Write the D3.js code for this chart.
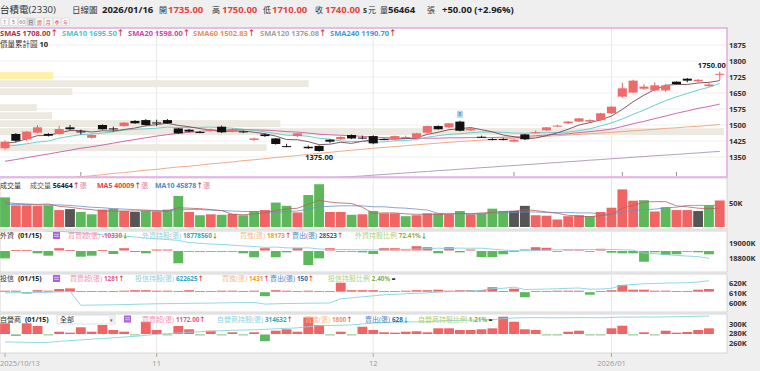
<!DOCTYPE html>
<html>
<head>
<meta charset="utf-8">
<script src="https://d3js.org/d3.v7.min.js"></script>
<style>
  body { margin: 0; background: #efefef; }
  svg { display: block; font-family: "Open Sans", "Noto Sans CJK TC", sans-serif; }
  .ax { font-size: 7.5px; font-weight: bold; fill: #333; }
  .dt { font-size: 7.5px; fill: #9a9a9a; }
</style>
</head>
<body>
<script>
// ---- data ----
const dates = [
  "10/13","10/14","10/15","10/16","10/17","10/20","10/21","10/22","10/23","10/27","10/28","10/29","10/30","10/31",
  "11/03","11/04","11/05","11/06","11/07","11/10","11/11","11/12","11/13","11/14","11/17","11/18","11/19","11/20","11/21","11/24","11/25","11/26","11/27","11/28",
  "12/01","12/02","12/03","12/04","12/05","12/08","12/09","12/10","12/11","12/12","12/15","12/16","12/17","12/18","12/19","12/22","12/23","12/24","12/26","12/29","12/30","12/31",
  "01/02","01/05","01/06","01/07","01/08","01/09","01/12","01/13","01/14","01/15","01/16"];
const tickDates = ["10/13","11/03","12/01","01/02"];
const tickLabels = ["2025/10/13","11","12","2026/01"];

const open = [1391,1458,1433,1464,1458,1458,1489,1470,1440,1500, 1484,1495,1519,1523,1512,1523,1484,1478,1467,1473,
  1492,1469,1470,1430,1456,1437,1401,1448,1398,1402, 1431,1433,1453,1441,1448,1434,1433,1443,1440,1464,
  1495,1489,1516,1475,1445,1434,1434,1422,1456,1465, 1475,1496,1508,1516,1516,1523,1555,1633,1652,1670,
  1662,1662,1703,1717,1705,1682,1735];
const high = [1428,1462,1472,1500,1462,1495,1500,1478,1456,1503, 1492,1514,1523,1528,1525,1528,1486,1482,1472,1483,
  1497,1484,1473,1440,1460,1439,1412,1463,1404,1404, 1434,1447,1456,1450,1452,1437,1450,1450,1463,1497,
  1498,1510,1520,1486,1450,1440,1440,1435,1458,1473, 1490,1502,1519,1533,1527,1557,1588,1698,1712,1692,
  1700,1692,1705,1720,1715,1700,1750];
const low = [1385,1420,1425,1460,1446,1455,1476,1455,1436,1478, 1470,1492,1505,1497,1495,1505,1458,1466,1462,1470,
  1462,1466,1462,1426,1444,1408,1396,1444,1388,1375, 1415,1430,1434,1433,1410,1429,1430,1435,1437,1460,
  1478,1485,1470,1472,1440,1428,1428,1418,1430,1460, 1472,1490,1505,1513,1510,1520,1552,1628,1650,1665,
  1658,1655,1690,1700,1700,1680,1710];
const close = [1422,1426,1469,1489,1450,1481,1480,1469,1453,1480, 1480,1511,1508,1500,1511,1508,1461,1469,1466,1480,
  1466,1480,1466,1437,1448,1411,1398,1461,1391,1378, 1422,1444,1437,1440,1414,1433,1448,1444,1461,1495,
  1480,1508,1473,1484,1444,1433,1433,1431,1433,1466, 1489,1497,1516,1531,1523,1555,1586,1672,1708,1680,
  1686,1686,1692,1708,1712,1690,1740];

const sma5 = [1415,1420,1435,1450,1451,1463,1474,1474,1467,1473, 1472,1479,1486,1496,1502,1508,1498,1492,1483,1477,
  1468,1472,1472,1466,1459,1448,1432,1431,1422,1408, 1410,1419,1414,1424,1431,1434,1434,1436,1440,1456,
  1466,1478,1483,1488,1478,1468,1453,1445,1435,1439, 1450,1463,1480,1500,1511,1524,1542,1573,1609,1640,
  1666,1686,1690,1690,1697,1700,1708];
const sma10 = [1400,1405,1412,1420,1425,1438,1447,1455,1458,1462, 1468,1476,1480,1482,1485,1490,1488,1488,1489,1490,
  1488,1485,1480,1475,1468,1460,1452,1451,1447,1438, 1434,1425,1423,1423,1420,1421,1426,1427,1432,1443,
  1450,1456,1459,1464,1467,1467,1466,1462,1461,1464, 1464,1465,1467,1473,1482,1496,1510,1528,1550,1570,
  1593,1614,1632,1648,1664,1677,1695.5];
const sma20 = [1330,1338,1347,1356,1364,1373,1382,1391,1398,1406, 1415,1424,1432,1440,1448,1455,1461,1466,1470,1474,
  1476,1478,1479,1477,1476,1473,1469,1467,1462,1457, 1454,1452,1449,1447,1443,1441,1439,1437,1437,1438,
  1438,1440,1440,1441,1441,1441,1443,1444,1446,1450, 1453,1456,1459,1464,1469,1474,1481,1493,1506,1517,
  1530,1542,1555,1566,1578,1587,1598];
const sma60 = [1222,1228,1232,1238,1243,1247,1252,1258,1262,1267, 1273,1277,1283,1288,1292,1298,1303,1307,1312,1318,
  1322,1327,1333,1337,1342,1348,1352,1357,1362,1367, 1372,1377,1382,1386,1391,1395,1399,1403,1407,1411,
  1415,1419,1422,1426,1429,1432,1435,1438,1441,1444, 1447,1450,1453,1456,1459,1462,1466,1469,1473,1476,
  1480,1484,1487,1491,1494,1498,1502.83];
const sma120 = [1146,1150,1153,1157,1160,1164,1167,1171,1174,1178, 1181,1185,1188,1192,1195,1199,1202,1206,1209,1213,
  1216,1220,1223,1227,1230,1234,1237,1241,1244,1248, 1251,1255,1258,1261,1265,1268,1272,1275,1279,1282,
  1286,1289,1293,1296,1300,1303,1307,1310,1314,1317, 1321,1324,1328,1331,1335,1338,1342,1345,1349,1352,
  1356,1359,1362,1366,1369,1373,1376.08];
const smaLegend = [["SMA5","1708.00","#b3303e"],["SMA10","1695.50","#4cc4c8"],["SMA20","1598.00","#d63fa6"],
  ["SMA60","1502.83","#ef8a55"],["SMA120","1376.08","#a0a0a0"],["SMA240","1190.70","#3b9ad9"]];

// volume profile (價量累計圖, 10 bins)
const profLow = [1375,1412.5,1450,1487.5,1525,1562.5,1600,1637.5,1675,1712.5];
const profVol = [405,0,1100,426,79,56,0,110,469,81];

// volume (K lots)
const volume = [63,46,46,45,46,36,38,32,27,37, 39,34,32,34,33,37,66,32,25,27,
  26,28,25,34,36,52,45,31,68,91, 32,32,26,27,34,29,29,23,25,29,
  29,27,34,27,29,39,34,34,45,25, 24,16,23,25,23,32,41,80,56,57,
  33,42,36,36,34,46,56.464];
const volColor = "grrrgrkggr" + "grkgrggrgr" + "grggrggrgg" + "rrgrgrrgrr" + "grgrgggkkr" + "rrrrgrrrrg" + "rgrrkgr";
const volMA5 = [52,50,49,48,49,44,42,39,37,34, 34,34,34,35,34,34,41,40,39,37,
  35,27,26,28,30,35,38,40,48,57, 53,51,50,42,29,30,30,28,27,27,
  27,27,29,28,30,31,33,34,37,35, 32,29,25,23,22,24,27,40,46,53,
  54,54,45,43,40,39,40.0];
const volMA10 = [48,48,48,47,47,47,46,44,42,41, 39,38,37,36,35,34,37,37,37,36,
  35,34,33,33,33,31,33,34,38,43, 44,45,45,45,43,43,41,40,38,36,
  29,29,28,28,28,29,30,31,32,32, 31,31,31,30,30,28,27,32,35,37,
  38,41,42,46,46,46,45.9];

// institutional flows (lots) and holdings (K lots), through 01/15
const foreignNet = [-23000,1500,1500,-7200,-14700,7200,1000,-17800,-14700,1000,
  -9400,7200,-3100,-7200,3100,3100,-38500,-2200,-2200,-2200,
  -2200,-2200,-7200,-19700,7200,-19700,-4100,8500,-43800,-22900,
  7200,-2200,-2200,-4100,-9400,7200,7200,3100,13500,10300,
  -7200,10300,-4100,3100,-18800,-18800,-10300,-2200,3100,10300,
  8500,-2200,3100,3100,-2200,5300,-5300,-7200,-7200,-33500,
  -4100,-12500,-10300,-2200,-4100,-10330];
const foreignHold = [19200,19185,19180,19175,19165,19160,19150,19140,19125,19115,
  19105,19095,19085,19070,19060,19050,19040,19010,19000,18990,
  18985,18975,18965,18958,18945,18950,18940,18935,18940,18925,
  18915,18918,18916,18914,18912,18910,18915,18920,18922,18930,
  18935,18930,18936,18934,18935,18922,18910,18903,18901,18903,
  18910,18915,18913,18915,18917,18915,18918,18913,18908,18870,
  18862,18850,18838,18830,18822,18800];
const trustNet = [480,480,-620,710,480,1280,1570,240,240,240,
  240,480,710,710,480,480,240,710,240,240,
  480,480,240,480,-1900,710,480,240,480,240,
  240,4280,710,710,710,240,240,480,710,710,
  950,480,710,710,710,2140,240,1430,-2380,240,
  240,480,480,480,-1190,240,710,3180,950,950,
  480,480,240,240,950,1281];
const trustHold = [610.5,610.6,610.4,610.8,611,611.5,612,598,598.2,598.4,
  598.5,598.7,599,599.3,599.5,599.7,599.8,600,600.1,600.2,
  600.4,600.6,600.7,600.9,599.2,599.5,599.8,599.9,600.1,600.2,
  600.3,604.5,605.5,606.5,607.5,608.5,609,609.5,610,610.5,
  611.2,611.6,612,612.5,613,614.8,615,616.2,613.8,614,
  614.2,614.6,615,615.3,614.1,614.3,615,618,618.8,619.5,
  619.8,620.2,620.4,620.6,621.3,622.6];
const dealerNet = [2200,-270,2200,1650,-140,470,270,1380,470,1850,
  820,470,-140,2530,820,-100,1650,970,-140,680,
  -100,350,-100,350,-1380,680,970,470,3440,1850,
  -100,470,-100,1500,820,350,270,470,560,350,
  1170,1170,820,820,970,1170,3560,2530,970,820,
  -100,-140,470,680,-100,-140,1170,1710,-100,350,
  -140,680,270,410,820,1172];
const dealerHold = [263,262.5,262,261.5,262,264,265.5,267,268.5,270,
  271.5,273,274.5,276.5,278.5,280,281.5,283,284,285,
  286,287,287.5,288,289,290,291,292,294.5,296.5,
  297,297.5,298,300,302,303,303.5,304,304.5,305,
  306,307,307.5,308,308.5,309,311,312.5,313,313.2,
  313,312.8,313,313.3,313.1,312.9,313.5,314.5,314.3,314.6,
  314.4,314.8,315,315.5,316,316.5];

const priceTicks = [1350,1425,1500,1575,1650,1725,1800,1875];
const volTicks = [50];
const foreignTicks = [18800,19000];
const trustTicks = [600,610,620];
const dealerTicks = [260,280,300];
const markerDays = ["10/22","12/18","01/05","01/12"];
const noteDay = "12/11";

// ---- layout ----
const W = 760, H = 371, PR = 727;
const RED = "#f06464", GRN = "#5db85c", DARK = "#555", UP = "#e02a2a", DN = "#2e9a35";
const svg = d3.select("body").append("svg").attr("width", W).attr("height", H);

const x = d3.scaleBand().domain(dates).range([-0.4, 725.2]);
const bw = x.bandwidth();
const cx = d => x(d) + bw / 2;

const panels = {
  main: [28, 177], vol: [178, 229], fr: [231, 272], it: [274, 312], dl: [314, 353]
};
const defs = svg.append("defs");
Object.entries(panels).forEach(([k, [t, b]]) => {
  svg.append("rect").attr("x", 0).attr("y", t).attr("width", PR).attr("height", b - t)
    .attr("fill", "#fff").attr("stroke", k === "main" ? "none" : "#d6d6d6").attr("stroke-width", 1);
  defs.append("clipPath").attr("id", "c-" + k).append("rect")
    .attr("x", 0).attr("y", t).attr("width", PR).attr("height", b - t);
});
const layer = k => svg.append("g").attr("clip-path", `url(#c-${k})`);

// vertical month grid
Object.entries(panels).forEach(([k, [t, b]]) => {
  svg.append("g").selectAll("line").data(tickDates.slice(1)).join("line")
    .attr("x1", d => cx(d)).attr("x2", d => cx(d)).attr("y1", t).attr("y2", b)
    .attr("stroke", "#e6e6e6");
});

// ---- header ----
// parts: [text, colour, weight, size]
function row(y, x0, parts, size) {
  const t = svg.append("text").attr("x", x0).attr("y", y).attr("font-size", size || 7.5);
  parts.forEach(([s, c, w, fs]) => {
    const sp = t.append("tspan").text(s).attr("fill", c || "#333").attr("font-weight", w || 400);
    if (fs) sp.attr("font-size", fs);
  });
  return t;
}
const qRed = "#e8413c";
row(13, 0, [["台積電(2330)"]], 9.5);
row(13, 72, [["日線圖"]], 8.5);
row(13, 102, [["2026/01/16", "#222", 700]], 9.5);
[["開", 159, "1735.00", 168], ["高", 212, "1750.00", 222], ["低", 263, "1710.00", 272], ["收", 315, "1740.00", 325]]
  .forEach(([l, lx, v, vx]) => { row(13, lx, [[l]], 8); row(13, vx, [[v, qRed, 700]], 9.5); });
row(13, 363, [["s", "#333", 700]], 8);
row(13, 368, [["元"]], 8);
row(13, 380, [["量"]], 8);
row(13, 388, [["56464", "#222", 700]], 9.5);
row(13, 427, [["張"]], 8);
row(13, 442, [["+50.00 (+2.96%)", "#222", 700]], 9.5);

// period buttons
const btns = ["1","5","60","日","週","月","季","年"];
btns.forEach((b, i) => {
  const bx = 1 + i * 8.7;
  svg.append("rect").attr("x", bx).attr("y", 18).attr("width", 7.5).attr("height", 7.5)
    .attr("fill", b === "日" ? "#d8d8d8" : "#fafafa").attr("stroke", "#ccc").attr("stroke-width", 0.5);
  svg.append("text").attr("x", bx + 3.75).attr("y", 24).attr("text-anchor", "middle")
    .attr("font-size", 5).attr("fill", i > 3 ? "#e05050" : "#666").text(b);
});

// ---- main price panel ----
const y = d3.scaleLinear().domain([1350, 1875]).range([157, 45]);
const gm = layer("main");
gm.selectAll("line.h").data(priceTicks).join("line").attr("class", "h")
  .attr("x1", 0).attr("x2", PR).attr("y1", d => y(d)).attr("y2", d => y(d)).attr("stroke", "#f0f0f0");

// volume profile bars
const px = d3.scaleLinear().domain([0, 1100]).range([0, 724]);
gm.selectAll("rect.pf").data(profLow).join("rect").attr("class", "pf")
  .attr("x", 0).attr("y", d => y(d + 37.5) + 0.5).attr("height", d => y(d) - y(d + 37.5) - 1)
  .attr("width", (d, i) => px(profVol[i]))
  .attr("fill", (d, i) => i === profLow.length - 1 ? "#fdf1a9" : "#ece9e1");

// moving averages
const maLine = arr => d3.line().x((d, i) => cx(dates[i])).y(d => y(d))(arr);
[[sma120, "#a995b5"], [sma60, "#eea27a"], [sma20, "#c85aa8"], [sma10, "#5cc9c6"], [sma5, "#6e4a52"]]
  .forEach(([a, c]) => gm.append("path").attr("d", maLine(a)).attr("fill", "none").attr("stroke", c).attr("stroke-width", 0.9));

// candles
const cg = gm.selectAll("g.cd").data(dates).join("g").attr("class", "cd");
const cCol = i => close[i] > open[i] ? "#f06a6a" : "#111";
cg.append("line").attr("x1", d => cx(d)).attr("x2", d => cx(d))
  .attr("y1", (d, i) => y(high[i])).attr("y2", (d, i) => y(low[i]))
  .attr("stroke", (d, i) => close[i] > open[i] ? "#e85050" : "#111").attr("stroke-width", 0.9);
cg.append("rect").attr("x", d => x(d) + bw * 0.08).attr("width", bw * 0.84)
  .attr("y", (d, i) => y(Math.max(open[i], close[i])))
  .attr("height", (d, i) => Math.max(1, Math.abs(y(open[i]) - y(close[i]))))
  .attr("fill", (d, i) => cCol(i));

// high / low labels
const iHi = d3.maxIndex(high), iLo = d3.minIndex(low);
gm.append("text").attr("x", cx(dates[iHi]) - 8).attr("y", y(high[iHi]) - 4).attr("text-anchor", "middle")
  .attr("font-size", 7.5).attr("font-weight", 700).attr("fill", "#222").text(high[iHi].toFixed(2));
gm.append("text").attr("x", cx(dates[iLo])).attr("y", y(low[iLo]) + 8).attr("text-anchor", "middle")
  .attr("font-size", 7.5).attr("font-weight", 700).attr("fill", "#222").text(low[iLo].toFixed(2));

// note marker and small event ticks
const ni = dates.indexOf(noteDay);
gm.append("rect").attr("x", cx(noteDay) - 3).attr("y", y(high[ni]) - 10).attr("width", 6).attr("height", 7)
  .attr("fill", "#a9d9f3");
gm.append("text").attr("x", cx(noteDay)).attr("y", y(high[ni]) - 4.5).attr("text-anchor", "middle")
  .attr("font-size", 5.5).attr("fill", "#2a6fb0").text("8");
gm.selectAll("line.mk").data(markerDays).join("line").attr("class", "mk")
  .attr("x1", d => cx(d)).attr("x2", d => cx(d)).attr("y1", 172).attr("y2", 176)
  .attr("stroke", "#777").attr("stroke-width", 0.8);

// pink frame
svg.append("path").attr("d", `M0,28H${PR}V177H0`).attr("fill", "none").attr("stroke", "#e2abe2").attr("stroke-width", 1.5);

// legend
let lx = [0, 62, 128, 193, 260, 330];
smaLegend.forEach(([n, v, c], i) => row(36, lx[i], [[n + " " + v, c, 700], ["↑", UP, 700]], 7.5));
row(46.5, 0, [["價量累計圖 ", "#333"], ["10", "#222", 700]], 7.5);

// ---- volume ----
const yv = d3.scaleLinear().domain([0, 50]).range([227, 203.5]);
const gv = layer("vol");
const vc = { r: RED, g: GRN, k: DARK };
gv.selectAll("rect").data(dates).join("rect")
  .attr("x", d => x(d) + 0.5).attr("width", bw - 1)
  .attr("y", (d, i) => yv(volume[i])).attr("height", (d, i) => yv(0) - yv(volume[i]))
  .attr("fill", (d, i) => vc[volColor[i]]);
const vLine = arr => d3.line().x((d, i) => cx(dates[i])).y(d => yv(d))(arr);
gv.append("path").attr("d", vLine(volMA10)).attr("fill", "none").attr("stroke", "#6c8fc0").attr("stroke-width", 0.8);
gv.append("path").attr("d", vLine(volMA5)).attr("fill", "none").attr("stroke", "#b56060").attr("stroke-width", 0.8);
row(187.5, 0, [["成交量"]], 7);
row(187.5, 30, [["成交量 ", "#555"], ["56464", "#222", 700], ["↑", UP, 700], ["張", "#e080a0"]], 7);
row(187.5, 97, [["MA5 40009", "#e8413c", 700], ["↑", UP, 700], ["張", "#e080a0"]], 7);
row(187.5, 155, [["MA10 45878", "#4a8ac8", 700], ["↑", UP, 700], ["張", "#e080a0"]], 7);

// ---- institutional panels ----
function instPanel(key, net, hold, base, pxPerLot, hDomain, hRange, ticks) {
  const g = layer(key);
  const yb = d3.scaleLinear().domain([0, 1]).range([base, base - pxPerLot]);
  const yh = d3.scaleLinear().domain(hDomain).range(hRange);
  g.selectAll("rect").data(net).join("rect")
    .attr("x", (d, i) => x(dates[i]) + 0.5).attr("width", bw - 1)
    .attr("y", d => d >= 0 ? yb(d) : base + 0.5)
    .attr("height", d => Math.max(0.8, Math.abs(yb(d) - base)))
    .attr("fill", d => d >= 0 ? RED : GRN);
  g.append("path").attr("d", d3.line().x((d, i) => cx(dates[i])).y(d => yh(d))(hold))
    .attr("fill", "none").attr("stroke", "#86d3e0").attr("stroke-width", 0.9);
  svg.append("g").selectAll("text").data(ticks).join("text").attr("class", "ax")
    .attr("x", 729).attr("y", d => yh(d)).attr("dy", "0.35em").text(d => d + "K");
}
instPanel("fr", foreignNet, foreignHold, 250.5, 1 / 3130, [18800, 19000], [258.3, 243.3], foreignTicks);
instPanel("it", trustNet, trustHold, 291.7, 1 / 475, [600, 620], [303.3, 283.3], trustTicks);
instPanel("dl", dealerNet, dealerHold, 334, 1 / 206, [260, 300], [343.3, 324], dealerTicks);

function calIcon(ix, iy) {
  svg.append("rect").attr("x", ix).attr("y", iy).attr("width", 7).attr("height", 7).attr("fill", "#a862dc");
  [2.3, 4.3].forEach(o => svg.append("line").attr("x1", ix + 1).attr("x2", ix + 6).attr("y1", iy + o).attr("y2", iy + o)
    .attr("stroke", "#fff").attr("stroke-width", 0.6));
}
const cPink = "#f094b4", cPinkV = "#e3588c", cCy = "#8ed3dc", cCyV = "#2fa8bf",
  cOr = "#f6c08c", cOrV = "#ef9a3a", cBl = "#4c86c4", cBlV = "#1f68ad", cOl = "#b3cf78", cOlV = "#8fae3c";
const VS = 6.3; // value font size in panel headers
const item = (lbl, lc, val, vc2, arr) => [[lbl, lc], [val, vc2, 700, VS], arr];
const upA = ["↑", UP, 700, VS], dnA = ["↓", DN, 700, VS], eqA = [" =", "#333", 700, VS];

// foreign
row(238, 0, [["外資"]], 7);
row(238, 18, [["(01/15)", "#222", 700]], 7);
calIcon(53, 232);
row(238, 68, item("買賣超(張) ", cPink, "-10330", cPinkV, dnA), 7);
row(238, 142, item("外資持股(張) ", cCy, "18778560", cCyV, dnA), 7);
row(238, 240, item("買進(張) ", cOr, "18173", cOrV, upA), 7);
row(238, 292, item("賣出(張) ", cBl, "28523", cBlV, upA), 7);
row(238, 355, item("外資持股比例 ", cOl, "72.41%", cOlV, dnA), 7);

// trust
row(281, 0, [["投信"]], 7);
row(281, 18, [["(01/15)", "#222", 700]], 7);
calIcon(53, 275);
row(281, 70, item("買賣超(張) ", cPink, "1281", cPinkV, upA), 7);
row(281, 135, item("投信持股(張) ", cCy, "622625", cCyV, upA), 7);
row(281, 222, item("買進(張) ", cOr, "1431", cOrV, upA), 7);
row(281, 270, item("賣出(張) ", cBl, "150", cBlV, upA), 7);
row(281, 328, item("投信持股比例 ", cOl, "2.40%", cOlV, eqA), 7);

// dealer
row(321.5, 0, [["自營商"]], 7);
row(321.5, 25, [["(01/15)", "#222", 700]], 7);
svg.append("rect").attr("x", 57).attr("y", 315).attr("width", 58).attr("height", 9)
  .attr("fill", "#fff").attr("stroke", "#c8c8c8").attr("stroke-width", 0.6);
svg.append("rect").attr("x", 109).attr("y", 316).attr("width", 5).attr("height", 7).attr("fill", "#eee");
row(322, 60, [["全部", "#333"]], 7);
svg.append("text").attr("x", 111.5).attr("y", 322).attr("text-anchor", "middle").attr("font-size", 5).attr("fill", "#666").text("▾");
calIcon(124, 315.5);
row(321.5, 142, item("買賣超(張) ", cPink, "1172.00", cPinkV, upA), 7);
row(321.5, 217, item("自營商持股(張) ", cCy, "314632", cCyV, upA), 7);
row(321.5, 305, item("買進(張) ", cOr, "1800", cOrV, upA), 7);
row(321.5, 365, item("賣出(張) ", cBl, "628", cBlV, dnA), 7);
row(321.5, 418, item("自營商持股比例 ", cOl, "1.21%", cOlV, eqA), 7);

// ---- right axes ----
svg.append("g").selectAll("text").data(priceTicks).join("text").attr("class", "ax")
  .attr("x", 729).attr("y", d => y(d)).attr("dy", "0.35em").text(d => d);
svg.append("g").selectAll("text").data(volTicks).join("text").attr("class", "ax")
  .attr("x", 729).attr("y", d => yv(d)).attr("dy", "0.35em").text(d => d + "K");

// ---- date axis ----
svg.append("g").selectAll("line").data(tickDates).join("line")
  .attr("x1", d => cx(d)).attr("x2", d => cx(d)).attr("y1", 353).attr("y2", 357).attr("stroke", "#aaa");
svg.append("g").selectAll("text").data(tickDates).join("text").attr("class", "dt")
  .attr("x", (d, i) => i === 0 ? 0 : cx(d)).attr("y", 366)
  .attr("text-anchor", (d, i) => i === 0 ? "start" : "middle")
  .text((d, i) => tickLabels[i]);
</script>
</body>
</html>
